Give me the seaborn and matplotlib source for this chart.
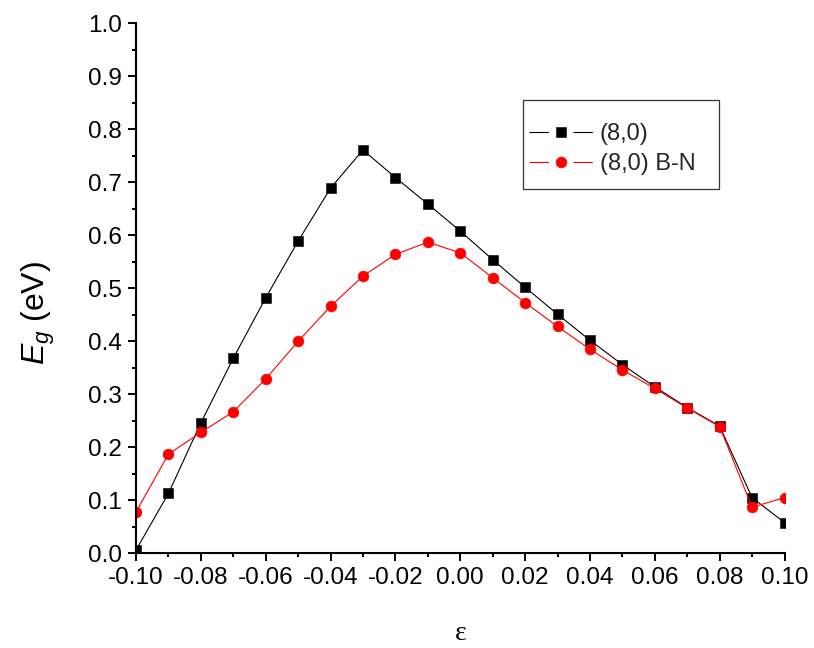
import matplotlib
matplotlib.use("Agg")
import matplotlib.pyplot as plt
from matplotlib.patches import Rectangle
from matplotlib.ticker import MultipleLocator, FormatStrFormatter
import seaborn as sns
import pandas as pd

# Axial strain applied to the tube
strain = [-0.10, -0.09, -0.08, -0.07, -0.06, -0.05, -0.04, -0.03, -0.02, -0.01,
          0.00, 0.01, 0.02, 0.03, 0.04, 0.05, 0.06, 0.07, 0.08, 0.09, 0.10]

# Band gap (eV) of the pristine (8,0) tube
gap_pristine = [0.006, 0.113, 0.246, 0.368, 0.482, 0.589, 0.689, 0.761, 0.709, 0.659,
                0.608, 0.554, 0.502, 0.451, 0.402, 0.356, 0.314, 0.275, 0.240, 0.105, 0.058]

# Band gap (eV) of the B-N doped (8,0) tube
gap_bn = [0.078, 0.187, 0.228, 0.267, 0.329, 0.400, 0.466, 0.523, 0.564, 0.587,
          0.567, 0.520, 0.473, 0.428, 0.385, 0.346, 0.311, 0.274, 0.239, 0.087, 0.105]

series_labels = ["(8,0)", "(8,0) B-N"]
x_ticks = [-0.10, -0.08, -0.06, -0.04, -0.02, 0.00, 0.02, 0.04, 0.06, 0.08, 0.10]
y_ticks = [0.0, 0.1, 0.2, 0.3, 0.4, 0.5, 0.6, 0.7, 0.8, 0.9, 1.0]

df_pristine = pd.DataFrame({"strain": strain, "gap": gap_pristine})
df_bn = pd.DataFrame({"strain": strain, "gap": gap_bn})

sns.set_style("ticks")
plt.rcParams["font.family"] = ["Liberation Sans", "DejaVu Sans"]
plt.rcParams["mathtext.fontset"] = "custom"
plt.rcParams["mathtext.rm"] = "Liberation Sans"
plt.rcParams["mathtext.it"] = "Liberation Sans:italic"
plt.rcParams["axes.unicode_minus"] = False
plt.rcParams["lines.scale_dashes"] = False

W, H = 814, 648
fig = plt.figure(figsize=(W / 100, H / 100), dpi=100)
ax = fig.add_axes([136 / W, 1 - 553.3 / H, (784.5 - 136) / W, (553.3 - 23.3) / H])

sns.lineplot(data=df_pristine, x="strain", y="gap", ax=ax, color="black",
             marker="s", markersize=6.8, markeredgecolor="black",
             markeredgewidth=0.4, linewidth=0.8, label=series_labels[0])
sns.lineplot(data=df_bn, x="strain", y="gap", ax=ax, color="#ff0000",
             marker="o", markersize=7.8, markeredgecolor="#ff0000",
             markeredgewidth=0.4, linewidth=0.8, label=series_labels[1])

ax.set_xlim(-0.10, 0.10)
ax.set_ylim(0.0, 1.0)
ax.set_xticks(x_ticks)
ax.set_yticks(y_ticks)
ax.xaxis.set_major_formatter(FormatStrFormatter("%.2f"))
ax.yaxis.set_major_formatter(FormatStrFormatter("%.1f"))
ax.xaxis.set_minor_locator(MultipleLocator(0.01))
ax.yaxis.set_minor_locator(MultipleLocator(0.05))

for side in ("top", "right"):
    ax.spines[side].set_visible(False)
for side in ("left", "bottom"):
    ax.spines[side].set_linewidth(1.5)
    ax.spines[side].set_color("black")

ax.tick_params(which="major", length=6, width=1.4, direction="out",
               labelsize=17.5, color="black", labelcolor="black")
ax.tick_params(axis="x", which="major", pad=4)
ax.tick_params(axis="y", which="major", pad=4)
ax.tick_params(which="minor", length=3, width=1.4, direction="out", color="black")

ax.set_ylabel(r"$E_g$ (eV)", fontsize=23, color="black")
ax.yaxis.set_label_coords(-0.122, 0.453)
ax.set_xlabel("ε", fontsize=20, family="Liberation Serif", color="black")
ax.xaxis.set_label_coords(0.5, -0.128)

leg = ax.legend(loc="center left", bbox_to_anchor=(529.3 / W, 1 - 148.9 / H),
                bbox_transform=fig.transFigure, frameon=False, fontsize=17,
                handlelength=2.69, handletextpad=0.3, labelspacing=0.35,
                borderpad=0, borderaxespad=0, numpoints=1)
# Legend keys: short line stubs on either side of the marker
for handle in leg.get_lines():
    handle.set_linestyle((0, (14, 17.6)))
fig.add_artist(Rectangle((522.7 / W, 1 - 189 / H), (719 - 522.7) / W, 89 / H,
                         transform=fig.transFigure, fill=False,
                         edgecolor="#333333", linewidth=0.9))

fig.savefig("out.png", dpi=100)
